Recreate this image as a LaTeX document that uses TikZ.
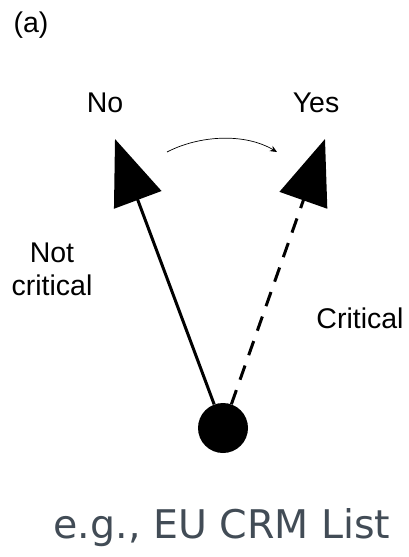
\documentclass[tikz,border=0pt]{standalone}
\usepackage{fontspec}
\setmainfont{Liberation Sans}
\newfontfamily\notefont{DejaVu Sans}
\usetikzlibrary{arrows.meta}
\definecolor{notegrey}{RGB}{66,76,86}

\begin{document}
\begin{tikzpicture}[x=1pt, y=-1pt,
  lbl/.style={anchor=base, font=\fontsize{28.5}{33}\selectfont, inner sep=0pt},
  bigarr/.style={-{Triangle[length=65pt, width=50pt]}, line width=3pt},
  swap/.style={-{Stealth[length=7pt, width=6pt]}, line width=0.7pt}
]
\useasboundingbox (0,0) rectangle (408,557);
\node[lbl] (panel) at (31,32) {(a)};
\node[lbl] (nolbl) at (105,112) {No};
\node[lbl] (yeslbl) at (316,112) {Yes};
\node[lbl, align=center] (notcrit) at (52,295) {Not\\critical};
\node[lbl] (crit) at (360,328) {Critical};
\node[circle, fill, minimum size=50pt, inner sep=0pt] (root) at (223,428) {};
\coordinate (tipno) at (115,139);
\coordinate (tipyes) at (325,139);
\draw[bigarr] (root) -- (tipno);
\draw[bigarr, dash pattern=on 15pt off 11pt] (root) -- (tipyes);
% switch from no to yes
\coordinate (swfrom) at (167,152);
\coordinate (swto) at (277,152);
\draw[swap] (swfrom) .. controls (200,135) and (245,133) .. (swto);
\node[anchor=base, inner sep=0pt, text=notegrey, font=\notefont\fontsize{39.5}{47}\selectfont] (eglbl) at (222,538) {e.g., EU CRM List};
\end{tikzpicture}
\end{document}
